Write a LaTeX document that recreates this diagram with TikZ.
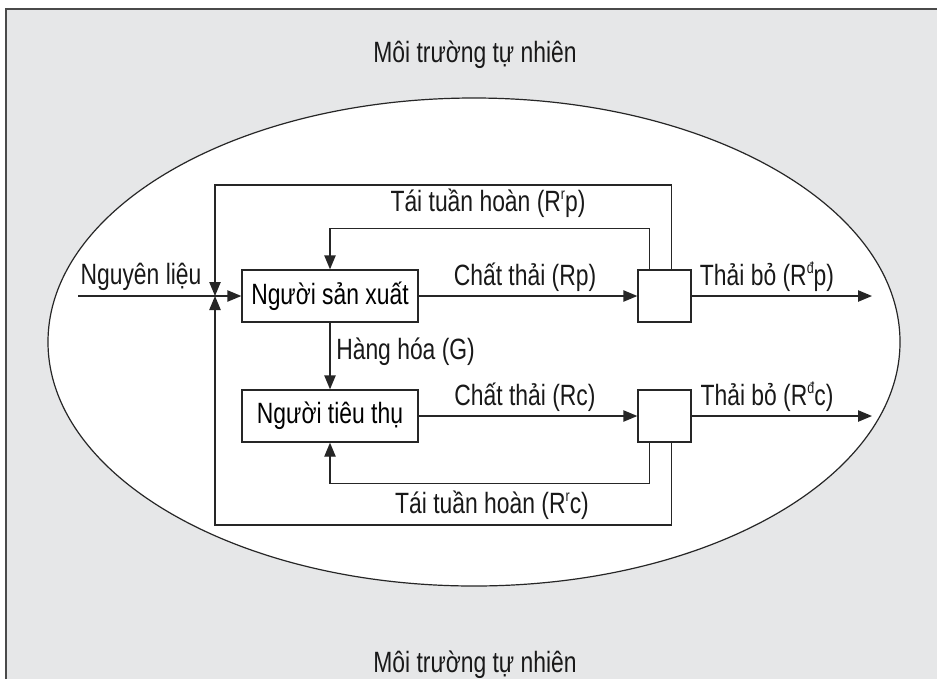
\documentclass[tikz,border=0pt]{standalone}
\usepackage{fontspec}
\setmainfont{Liberation Sans}[FakeStretch=0.78]
\usetikzlibrary{arrows.meta}
\definecolor{envgray}{HTML}{E6E7E8}
\definecolor{framegray}{HTML}{4A4A4A}
\newcommand\upidx[1]{\raisebox{0.78ex}{\fontsize{12}{12}\selectfont #1}}
\tikzset{
  flow/.style={line width=1pt, draw=black!85},
  arr/.style={flow, -{Triangle[length=10.5pt,width=8.5pt]}},
  block/.style={draw=black!85, line width=1pt, fill=white, minimum width=132pt,
                minimum height=39pt, inner sep=0pt, font=\fontsize{22}{26}\selectfont},
  sink/.style={draw=black!85, line width=1pt, fill=white, minimum width=39.75pt,
               minimum height=39pt, inner sep=0pt},
  lbl/.style={inner sep=0pt, font=\fontsize{22}{26}\selectfont, text=black!90}
}
\begin{document}
\begin{tikzpicture}[x=0.75pt,y=-0.75pt]
\useasboundingbox (0,0) rectangle (937,679);
% surrounding environment
\fill[envgray] (6,9) rectangle (937,679);
\draw[framegray, line width=1.4pt] (6,679) -- (6,9) -- (937,9);
\draw[black!85, line width=0.9pt, fill=white] (474,342) ellipse [x radius=426, y radius=244];
\node[lbl] (envtop) at (475,55) {Môi trường tự nhiên};
\node[lbl] (envbot) at (475,665) {Môi trường tự nhiên};

% blocks
\node[block] (prod) at (330,296) {Người sản xuất};
\node[block] (cons) at (330,416) {Người tiêu thụ};
\node[sink] (sp) at (664.5,296) {};
\node[sink] (sc) at (664.5,416) {};

% junction and loop corners
\coordinate (J) at (215,296);
\coordinate (src) at (78,296);
\coordinate (outtop) at (215,185);
\coordinate (outbot) at (215,525);
\coordinate (dp) at (872,296);
\coordinate (dc) at (872,416);

% raw material input
\draw[flow] (src) -- (J);
\draw[arr] (J) -- (prod.west);
\node[lbl] (nl) at (141,277) {Nguyên liệu};

% production branch
\draw[arr] (prod.east) -- (sp.west);
\node[lbl] (ctp) at (525,277) {Chất thải (Rp)};
\draw[arr] (sp.east) -- (dp);
\node[lbl] (tbp) at (767,277) {Thải bỏ (R\upidx{đ}p)};
\draw[arr] ([xshift=-11.25pt]sp.north) |- ([yshift=30.75pt]prod.north) -- (prod.north);
\node[lbl] (rrp) at (488,203) {Tái tuần hoàn (R\upidx{r}p)};
\draw[arr] ([xshift=5.25pt]sp.north) |- (outtop) -- (J);

% goods
\draw[arr] (prod.south) -- (cons.north);
\node[lbl, anchor=west] (g) at (336,352) {Hàng hóa (G)};

% consumption branch
\draw[arr] (cons.east) -- (sc.west);
\node[lbl] (ctc) at (525,397) {Chất thải (Rc)};
\draw[arr] (sc.east) -- (dc);
\node[lbl] (tbc) at (767,397) {Thải bỏ (R\upidx{đ}c)};
\draw[arr] ([xshift=-11.25pt]sc.south) |- ([yshift=-30.75pt]cons.south) -- (cons.south);
\node[lbl] (rrc) at (492,505) {Tái tuần hoàn (R\upidx{r}c)};
\draw[arr] ([xshift=5.25pt]sc.south) |- (outbot) -- (J);
\end{tikzpicture}
\end{document}
